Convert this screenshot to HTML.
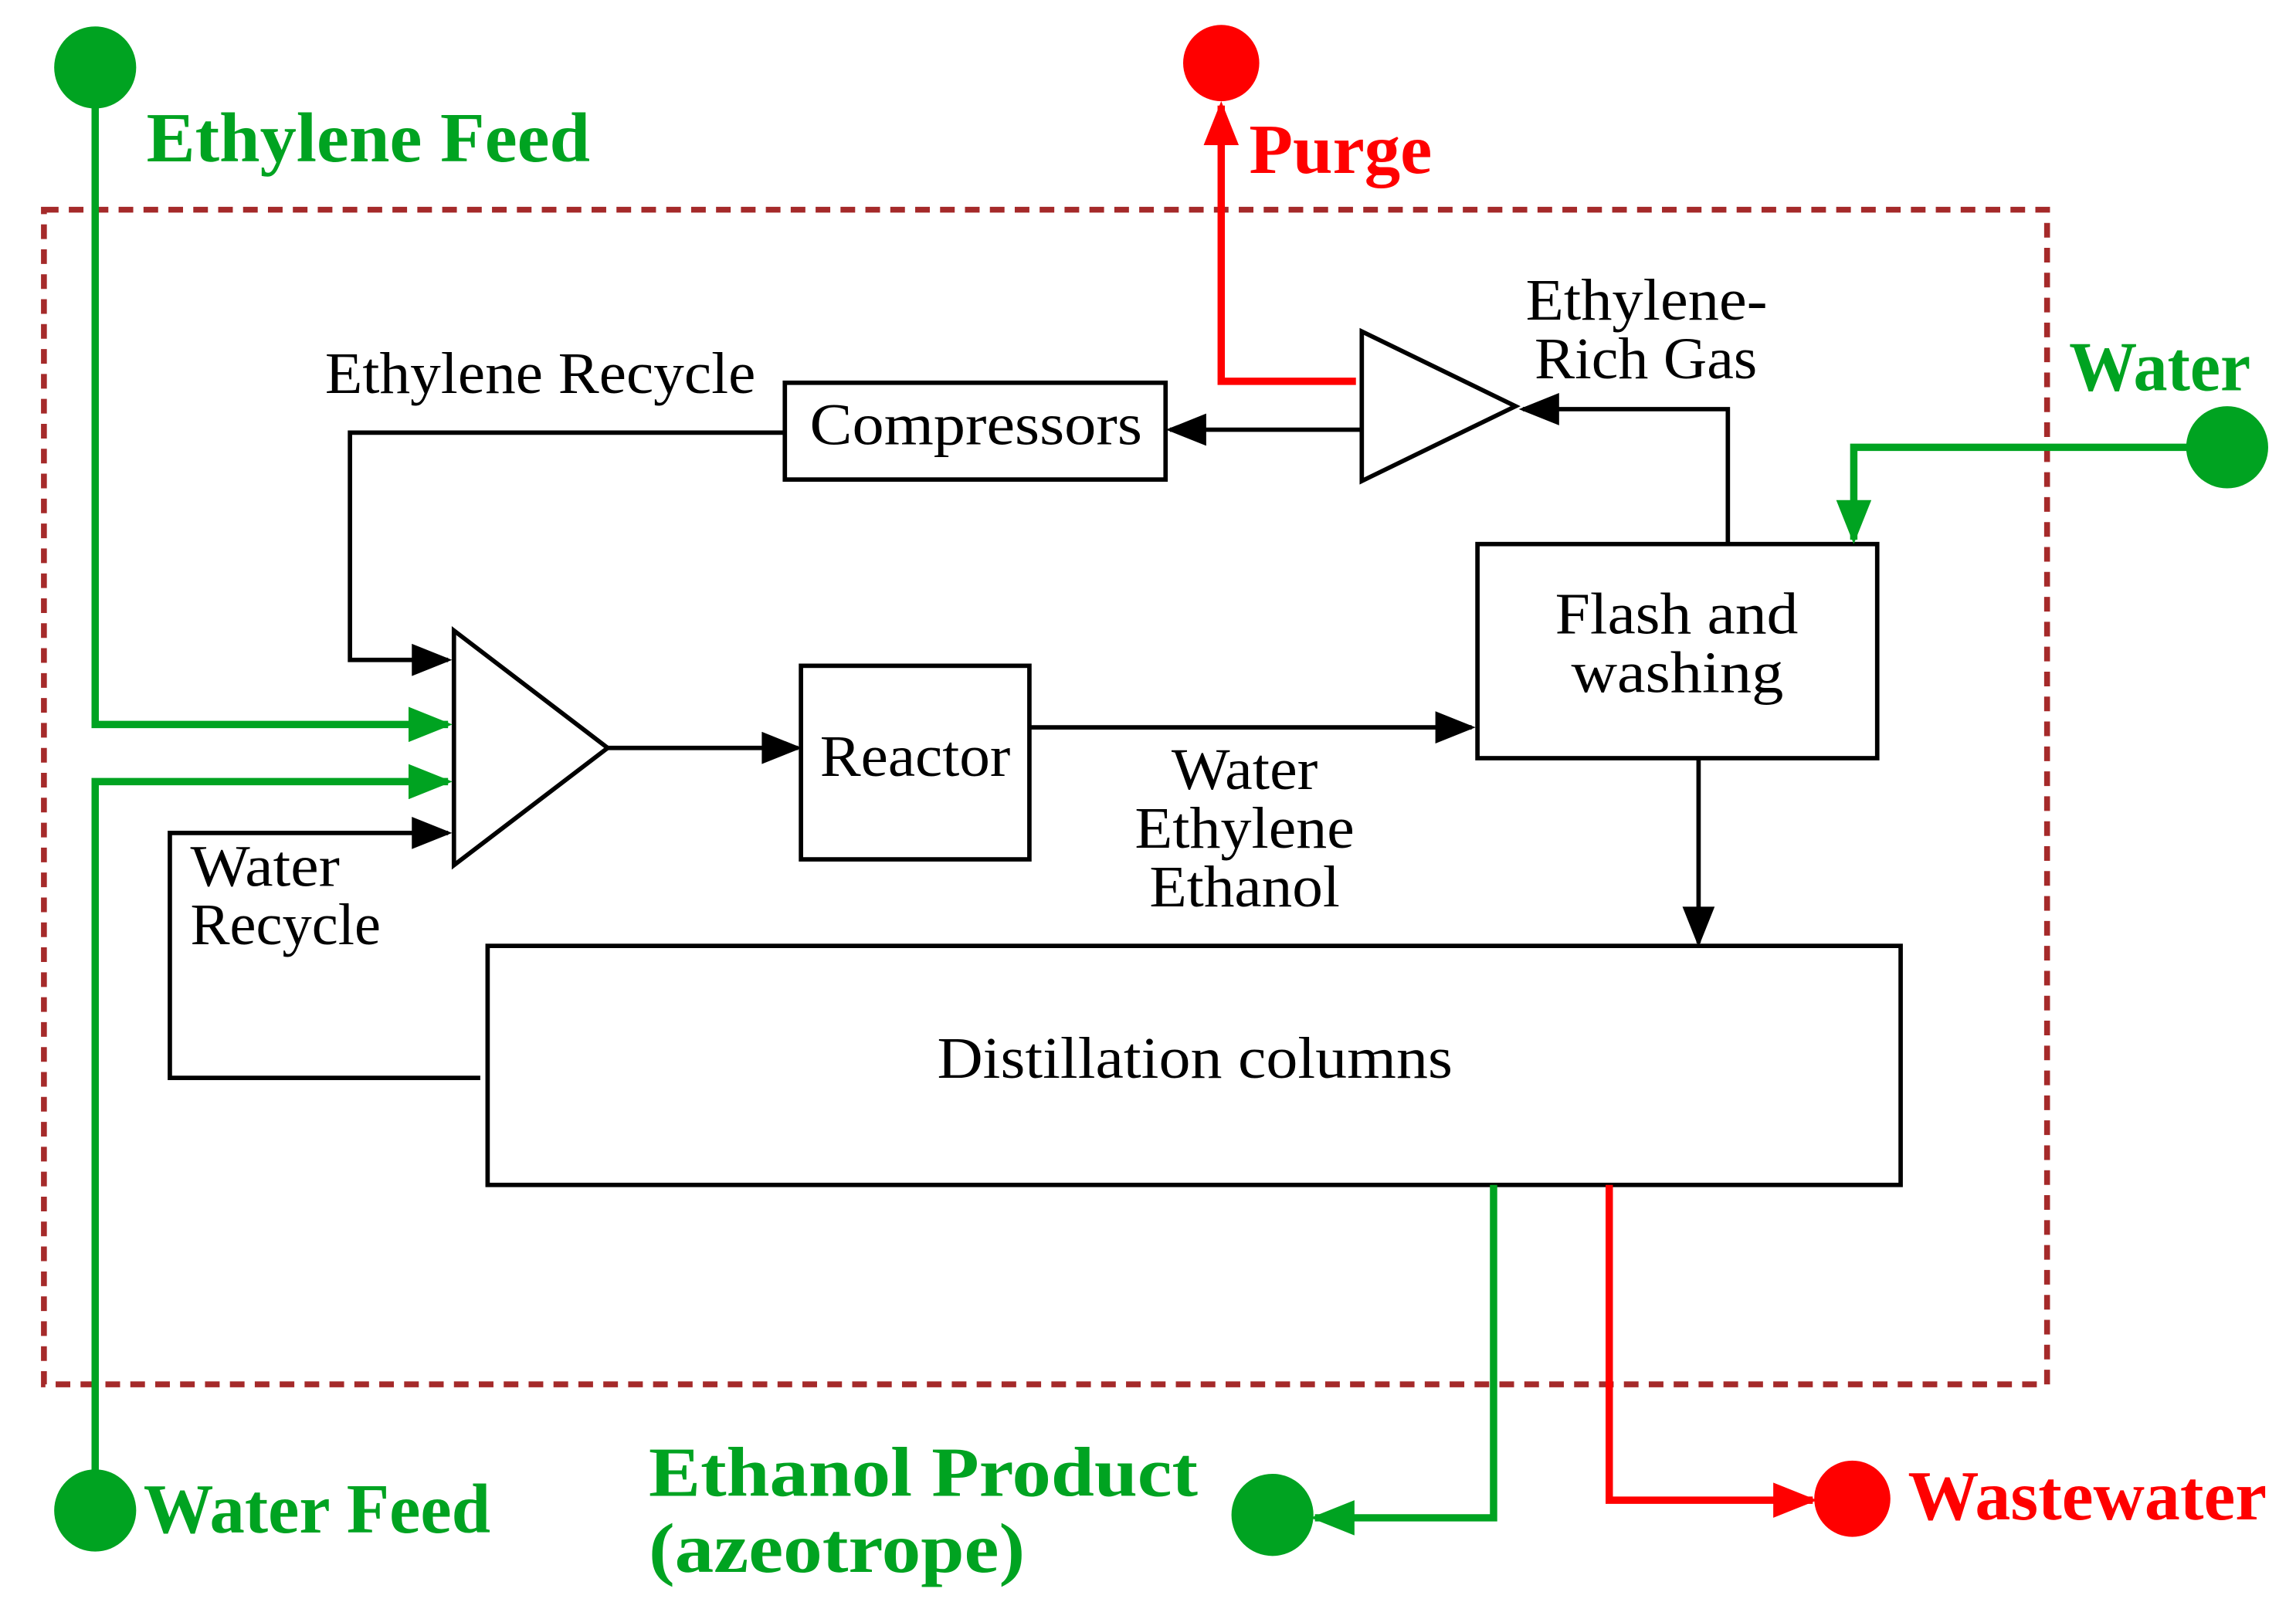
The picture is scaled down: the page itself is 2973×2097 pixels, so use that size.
<!DOCTYPE html>
<html><head><meta charset="utf-8"><style>
html,body{margin:0;padding:0;background:#fff}
svg{display:block}
text{font-family:"Liberation Serif",serif}
</style></head><body>
<svg width="2973" height="2097" viewBox="0 0 1568 1104" preserveAspectRatio="none" xmlns="http://www.w3.org/2000/svg">
<defs>
<marker id="ag" viewBox="0 0 10 8" refX="9" refY="4" markerWidth="32" markerHeight="24" orient="auto" markerUnits="userSpaceOnUse"><path d="M0,0 L10,4 L0,8 z" fill="#00a321"/></marker>
<marker id="ar" viewBox="0 0 10 8" refX="9" refY="4" markerWidth="32" markerHeight="24" orient="auto" markerUnits="userSpaceOnUse"><path d="M0,0 L10,4 L0,8 z" fill="#ff0000"/></marker>
<marker id="ak" viewBox="0 0 10 8" refX="9" refY="4" markerWidth="32" markerHeight="22" orient="auto" markerUnits="userSpaceOnUse"><path d="M0,0 L10,4 L0,8 z" fill="#000"/></marker>
</defs>
<rect x="30" y="143" width="1368" height="801" fill="none" stroke="#a52a2a" stroke-width="4" stroke-dasharray="10,7"/>
<g fill="none" stroke="#000" stroke-width="3">
<polygon points="310,430 310,590 415,510"/>
<polygon points="930,226 930,328 1035,277"/>
<rect x="547" y="454" width="156" height="132"/>
<rect x="1009" y="371" width="273" height="146"/>
<rect x="333" y="645" width="965" height="163"/>
<rect x="536" y="261" width="260" height="66"/>
<path d="M415,510 H545" marker-end="url(#ak)"/>
<path d="M703,496 H1005" marker-end="url(#ak)"/>
<path d="M1160,517 V643" marker-end="url(#ak)"/>
<path d="M328,735 H116 V568 H306" marker-end="url(#ak)"/>
<path d="M1180,371 V279 H1040" marker-end="url(#ak)"/>
<path d="M930,293 H799" marker-end="url(#ak)"/>
<path d="M536,295 H239 V450 H306" marker-end="url(#ak)"/>
</g>
<g fill="none" stroke="#00a321" stroke-width="5">
<path d="M65,46 V494 H306" marker-end="url(#ag)"/>
<path d="M65,1030 V533 H306" marker-end="url(#ag)"/>
<path d="M1521,305 H1266 V368" marker-end="url(#ag)"/>
<path d="M1020,808 V1035 H898" marker-end="url(#ag)"/>
</g>
<g fill="none" stroke="#ff0000" stroke-width="5">
<path d="M926,260 H834 V72" marker-end="url(#ar)"/>
<path d="M1099,808 V1023 H1238" marker-end="url(#ar)"/>
</g>
<g fill="#00a321"><circle cx="65" cy="46" r="28"/><circle cx="65" cy="1030" r="28"/><circle cx="1521" cy="305" r="28"/><circle cx="869" cy="1033" r="28"/></g>
<g fill="#ff0000"><circle cx="834" cy="43" r="26"/><circle cx="1265" cy="1022" r="26"/></g>
<g font-size="40" fill="#000">
<text x="560" y="529" textLength="130" lengthAdjust="spacingAndGlyphs">Reactor</text>
<text x="800" y="538" textLength="100" lengthAdjust="spacingAndGlyphs">Water</text>
<text x="775" y="578" textLength="150" lengthAdjust="spacingAndGlyphs">Ethylene</text>
<text x="785" y="618" textLength="130" lengthAdjust="spacingAndGlyphs">Ethanol</text>
<text x="1062" y="432" textLength="166" lengthAdjust="spacingAndGlyphs">Flash and</text>
<text x="1073" y="472" textLength="145" lengthAdjust="spacingAndGlyphs">washing</text>
<text x="640" y="735" textLength="352" lengthAdjust="spacingAndGlyphs">Distillation columns</text>
<text x="130" y="604" textLength="102" lengthAdjust="spacingAndGlyphs">Water</text>
<text x="130" y="644" textLength="130" lengthAdjust="spacingAndGlyphs">Recycle</text>
<text x="1042" y="218" textLength="165" lengthAdjust="spacingAndGlyphs">Ethylene-</text>
<text x="1048" y="258" textLength="152" lengthAdjust="spacingAndGlyphs">Rich Gas</text>
<text x="553" y="303" textLength="227" lengthAdjust="spacingAndGlyphs">Compressors</text>
<text x="222" y="268" textLength="294" lengthAdjust="spacingAndGlyphs">Ethylene Recycle</text>
</g>
<g font-size="48" font-weight="bold">
<text x="100" y="110" fill="#00a321" textLength="303" lengthAdjust="spacingAndGlyphs">Ethylene Feed</text>
<text x="98" y="1045" fill="#00a321" textLength="237" lengthAdjust="spacingAndGlyphs">Water Feed</text>
<text x="1413" y="266" fill="#00a321" textLength="124" lengthAdjust="spacingAndGlyphs">Water</text>
<text x="443" y="1020" fill="#00a321" textLength="375" lengthAdjust="spacingAndGlyphs">Ethanol Product</text>
<text x="443" y="1072" fill="#00a321" textLength="257" lengthAdjust="spacingAndGlyphs">(azeotrope)</text>
<text x="853" y="118" fill="#ff0000" textLength="125" lengthAdjust="spacingAndGlyphs">Purge</text>
<text x="1303" y="1036" fill="#ff0000" textLength="245" lengthAdjust="spacingAndGlyphs">Wastewater</text>
</g>
</svg>
</body></html>
